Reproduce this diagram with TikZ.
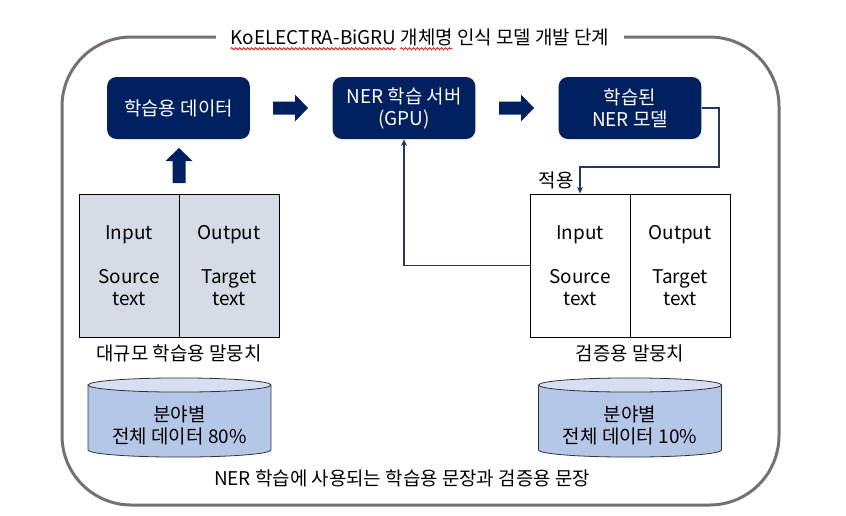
\documentclass[tikz,border=0pt]{standalone}
\usepackage{fontspec}
\setmainfont{Noto Sans CJK KR}
\usetikzlibrary{arrows.meta,decorations.pathmorphing}

\definecolor{navy}{HTML}{002060}
\definecolor{linknavy}{HTML}{1F3864}
\definecolor{cellgray}{HTML}{D6DCE5}
\definecolor{drumbody}{HTML}{B4C7E7}
\definecolor{drumtop}{HTML}{D6E0F2}
\definecolor{framegray}{HTML}{767171}

\newlength\wordA
\newlength\wordB
\newlength\wordC
\newlength\wordD

\tikzset{
  darkbox/.style={fill=navy, rounded corners=7pt, text=white, align=center,
    minimum width=107pt, minimum height=46.5pt},
  cell/.style={draw=black, line width=0.75pt, align=center, inner sep=0pt,
    minimum width=75pt, minimum height=107.25pt},
  link/.style={draw=linknavy, line width=1.4pt, -{Stealth[length=5pt,width=4.5pt]}},
  frame/.style={draw=framegray, line width=2.25pt, rounded corners=52pt},
  drum/.style={draw=black!80, line width=0.6pt},
  squiggle/.style={draw=red!85!black, line width=0.6pt, decorate,
    decoration={snake, segment length=3pt, amplitude=0.8pt}},
  blockarrow/.pic={
    \fill[navy] (-17.5,-6.5) -- (4.5,-6.5) -- (4.5,-13.5) -- (17.5,0)
      -- (4.5,13.5) -- (4.5,6.5) -- (-17.5,6.5) -- cycle;
  }
}

\begin{document}
\settowidth{\wordA}{\fontsize{14.2}{16.5}\selectfont KoELECTRA-BiGRU}%
\settowidth{\wordB}{\fontsize{14.2}{16.5}\selectfont KoELECTRA-BiGRU 개체명}%
\settowidth{\wordC}{\fontsize{14.2}{16.5}\selectfont 개체명}%
\setlength{\wordD}{\dimexpr\wordB-\wordC+11pt\relax}%
\begin{tikzpicture}[x=0.75pt, y=-0.75pt, every node/.style={font=\fontsize{14.2}{16.5}\selectfont}]
    \useasboundingbox (0,0) rectangle (846,515);
    % outer frame and title
    \draw[frame] (62,37) rectangle (779,505);
    \node[fill=white, inner xsep=11pt, inner ysep=2pt] (title) at (420,37) {KoELECTRA-BiGRU 개체명 인식 모델 개발 단계};
    \draw[squiggle] ([xshift=11pt, yshift=-3.5pt]title.base west) -- ++(\wordA,0pt);
    \draw[squiggle] ([xshift=\wordD, yshift=-3.5pt]title.base west) -- ++(\wordC,0pt);

    % process boxes
    \node[darkbox] (data) at (178.5,108) {학습용 데이터};
    \node[darkbox] (server) at (404,108) {NER 학습 서버\\(GPU)};
    \node[darkbox] (model) at (630,108) {학습된\\NER 모델};
    \pic at (290.5,108) {blockarrow};
    \pic at (516.5,108) {blockarrow};
    \pic[rotate=90] at (179,165.5) {blockarrow};

    % corpora
    \node[cell, fill=cellgray] (linput) at (129,265.5) {Input\\[16.5pt]Source\\text};
    \node[cell, fill=cellgray] (loutput) at (229,265.5) {Output\\[16.5pt]Target\\text};
    \node (lcap) at (179,353) {대규모 학습용 말뭉치};
    \node[cell] (rinput) at (580,265.5) {Input\\[16.5pt]Source\\text};
    \node[cell] (routput) at (680,265.5) {Output\\[16.5pt]Target\\text};
    \node (rcap) at (630,353) {검증용 말뭉치};

    % data drums
    \foreach \cx/\pct/\nm in {179.5/80/ldrum, 630/10/rdrum} {
        \fill[drumbody] (\cx-91.5,385) -- (\cx-91.5,450) arc[start angle=180, end angle=360, x radius=68.6pt, y radius=5.3pt] -- (\cx+91.5,385) -- cycle;
        \draw[drum] (\cx-91.5,385) -- (\cx-91.5,450) arc[start angle=180, end angle=360, x radius=68.6pt, y radius=5.3pt] -- (\cx+91.5,385);
        \filldraw[drum, fill=drumtop] (\cx,385) ellipse[x radius=68.6pt, y radius=5.3pt];
        \node[align=center] (\nm) at (\cx,425) {분야별\\전체 데이터 \pct\%};
    }
    \node (note) at (402,478) {NER 학습에 사용되는 학습용 문장과 검증용 문장};

    % connectors
    \coordinate (bend) at (719,167);
    \draw[link] (model.east) -| (bend) -| node[pos=0.75, left, inner sep=4pt] {적용} (rinput.north);
    \draw[link] (rinput.west) -| (server.south);
\end{tikzpicture}
\end{document}
